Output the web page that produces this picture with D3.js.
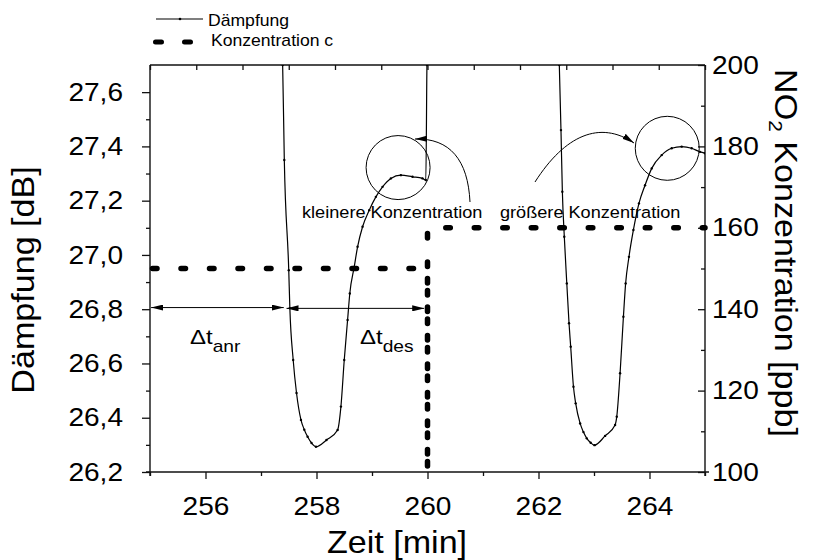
<!DOCTYPE html>
<html><head><meta charset="utf-8">
<script src="https://cdn.jsdelivr.net/npm/d3@7/dist/d3.min.js"></script>
<style>
body{margin:0;background:#fff}
svg{display:block}
text{font-family:"Liberation Sans",Arial,Helvetica,sans-serif;fill:#000}
</style></head>
<body><svg id="chart" width="815" height="560"></svg>
<script>
// ---------- data ----------
const timeTicks = [256, 258, 260, 262, 264];
const timeMinor = [255, 257, 259, 261, 263, 265];
const dampTicks = [26.2, 26.4, 26.6, 26.8, 27.0, 27.2, 27.4, 27.6];
const dampMinor = [26.3, 26.5, 26.7, 26.9, 27.1, 27.3, 27.5];
const concTicks = [100, 120, 140, 160, 180, 200];
const concMinor = [110, 130, 150, 170, 190];

const dampTime = [257.37, 257.39, 257.42, 257.50, 257.52, 257.58, 257.64, 257.72, 257.78, 257.84, 257.91, 257.99,
  258.18, 258.38, 258.44, 258.50, 258.56, 258.60, 258.68, 258.74, 258.83, 258.95, 259.07, 259.19, 259.34,
  259.52, 259.73, 259.91, 259.97, 259.99, 260.00,
  262.36, 262.375, 262.405, 262.43, 262.465, 262.51, 262.55, 262.58, 262.63, 262.67, 262.75, 262.81, 262.87, 262.94,
  263.01, 263.20, 263.38, 263.41, 263.47, 263.53, 263.57, 263.63, 263.71, 263.81, 263.92, 264.04, 264.22,
  264.40, 264.58, 264.76, 264.91, 265.00];
const dampValue = [27.80, 27.70, 27.35, 26.944, 26.804, 26.613, 26.491, 26.392, 26.356, 26.330, 26.307, 26.293,
  26.318, 26.355, 26.441, 26.613, 26.760, 26.858, 26.956, 27.030, 27.104, 27.165, 27.214, 27.251, 27.282,
  27.294, 27.288, 27.282, 27.276, 27.70, 27.80,
  27.80, 27.70, 27.46, 27.233, 27.067, 26.895, 26.748, 26.662, 26.514, 26.453, 26.379, 26.347, 26.324, 26.308,
  26.299, 26.333, 26.373, 26.404, 26.564, 26.772, 26.895, 26.993, 27.092, 27.190, 27.257, 27.319, 27.368,
  27.393, 27.399, 27.393, 27.380, 27.375];

const concTime = [255, 260, 260, 260, 265];
const concValue = [150, 150, 100, 160, 160];

const legendLabels = ["Dämpfung", "Konzentration c"];

// ---------- setup ----------
const SX = 1.1;
const svg = d3.select("#chart");
const m = {left:150, right:705, top:65, bottom:472};

const x = d3.scaleLinear().domain([255, 265]).range([m.left, m.right]);
const yL = d3.scaleLinear().domain([26.2, 27.7]).range([m.bottom, m.top]);
const yR = d3.scaleLinear().domain([100, 200]).range([m.bottom, m.top]);

function stretch(sel, sx){
  sel.each(function(){
    const t = d3.select(this);
    const tx = +t.attr("x") || 0, ty = +t.attr("y") || 0;
    t.attr("x", 0).attr("y", 0).attr("transform", `translate(${tx},${ty}) scale(${sx||SX},1)`);
  });
}
function styleAxis(g, fs){
  g.attr("font-family", null).attr("font-size", null);
  g.select(".domain").remove();
  g.selectAll(".tick line").attr("stroke", "#111").attr("stroke-width", 1.3);
  g.selectAll("text").attr("font-size", fs).attr("fill", "#000");
}
const fmtD = d => d3.format(".1f")(d).replace(".", ",");

svg.append("defs").append("clipPath").attr("id", "plotclip")
  .append("rect").attr("x", m.left).attr("y", m.top)
  .attr("width", m.right - m.left).attr("height", m.bottom - m.top);

// ---------- axes ----------
let g = svg.append("g").attr("transform", `translate(${m.left},0)`)
  .call(d3.axisLeft(yL).tickValues(dampTicks).tickFormat(fmtD).tickSizeInner(8).tickSizeOuter(0).tickPadding(19));
styleAxis(g, 25.5); stretch(g.selectAll("text"));
g = svg.append("g").attr("transform", `translate(${m.left},0)`)
  .call(d3.axisLeft(yL).tickValues(dampMinor).tickFormat("").tickSizeInner(4).tickSizeOuter(0));
styleAxis(g, 10);

g = svg.append("g").attr("transform", `translate(${m.right},0)`)
  .call(d3.axisRight(yR).tickValues(concTicks).tickFormat(d3.format("d")).tickSizeInner(-7).tickSizeOuter(0).tickPadding(7));
styleAxis(g, 25.5); stretch(g.selectAll("text"));
g = svg.append("g").attr("transform", `translate(${m.right},0)`)
  .call(d3.axisRight(yR).tickValues(concMinor).tickFormat("").tickSizeInner(-4).tickSizeOuter(0));
styleAxis(g, 10);

g = svg.append("g").attr("transform", `translate(0,${m.bottom})`)
  .call(d3.axisBottom(x).tickValues(timeTicks).tickFormat(d3.format("d")).tickSizeInner(7).tickSizeOuter(0).tickPadding(18));
styleAxis(g, 25.5); stretch(g.selectAll("text"));
g = svg.append("g").attr("transform", `translate(0,${m.bottom})`)
  .call(d3.axisBottom(x).tickValues(timeMinor).tickFormat("").tickSizeInner(4).tickSizeOuter(0));
styleAxis(g, 10);

g = svg.append("g").attr("transform", `translate(0,${m.top})`)
  .call(d3.axisTop(x).tickValues(d3.range(0, 13).map(i => 255 + i * 10 / 12)).tickFormat("").tickSizeInner(-5).tickSizeOuter(0));
styleAxis(g, 10);

const frame = svg.append("g").attr("stroke", "#111").attr("stroke-width", 1.4).attr("fill", "none");
frame.append("line").attr("x1", m.left).attr("x2", m.left).attr("y1", m.top).attr("y2", m.bottom + 4);
frame.append("line").attr("x1", m.right).attr("x2", m.right).attr("y1", m.top).attr("y2", m.bottom + 4);
frame.append("line").attr("x1", m.left - 4).attr("x2", m.right + 4).attr("y1", m.bottom).attr("y2", m.bottom);
frame.append("line").attr("x1", m.left).attr("x2", m.right).attr("y1", m.top).attr("y2", m.top);

// ---------- series ----------
const concData = concTime.map((t, i) => ({t, v: concValue[i]}));
svg.append("path").datum(concData)
  .attr("d", d3.line().x(d => x(d.t)).y(d => yR(d.v)))
  .attr("fill", "none").attr("stroke", "#000").attr("stroke-width", 5.5)
  .attr("stroke-dasharray", "4.5,24").attr("stroke-linecap", "round").attr("stroke-dashoffset", -2.5);

const dampData = dampTime.map((t, i) => ({t, v: dampValue[i]}));
const cg = svg.append("g").attr("clip-path", "url(#plotclip)");
cg.append("path").datum(dampData)
  .attr("d", d3.line().x(d => x(d.t)).y(d => yL(d.v)).curve(d3.curveMonotoneX))
  .attr("fill", "none").attr("stroke", "#000").attr("stroke-width", 1.2);
cg.selectAll("circle.mk").data(dampData.filter(d => d.v <= 27.7)).join("circle")
  .attr("class", "mk").attr("cx", d => x(d.t)).attr("cy", d => yL(d.v)).attr("r", 1.2).attr("fill", "#000");

// ---------- annotations ----------
const defs = svg.select("defs");
defs.append("marker").attr("id", "ah").attr("viewBox", "0 0 12 6").attr("refX", 12).attr("refY", 3)
  .attr("markerWidth", 12).attr("markerHeight", 6).attr("markerUnits", "userSpaceOnUse").attr("orient", "auto-start-reverse")
  .append("path").attr("d", "M0,0 L12,3 L0,6 Z").attr("fill", "#000");

const ann = svg.append("g").attr("fill", "none").attr("stroke", "#000").attr("stroke-width", 1);
ann.append("circle").attr("cx", x(259.47)).attr("cy", yL(27.322)).attr("r", 32);
ann.append("circle").attr("cx", x(264.32)).attr("cy", yL(27.393)).attr("r", 32);
ann.append("path").attr("d", "M470,202 C468,160 450,138 415,139").attr("marker-end", "url(#ah)");
ann.append("path").attr("d", "M535,182 C565,135 600,120 634,143").attr("marker-end", "url(#ah)");

const yArr = yL(26.806);
ann.append("line").attr("x1", x(255.02)).attr("x2", x(257.41)).attr("y1", yArr).attr("y2", yArr)
  .attr("marker-start", "url(#ah)").attr("marker-end", "url(#ah)");
ann.append("line").attr("x1", x(257.46)).attr("x2", x(259.94)).attr("y1", yArr + 0.8).attr("y2", yArr + 0.8)
  .attr("marker-start", "url(#ah)").attr("marker-end", "url(#ah)");

function addText(str, tx, ty, fs, anchor, rot, sx){
  const t = svg.append("text").attr("font-size", fs).attr("text-anchor", anchor || "start")
    .attr("transform", `translate(${tx},${ty})${rot ? ` rotate(${rot})` : ""} scale(${sx || SX},1)`);
  t.text(str);
  return t;
}
addText("kleinere Konzentration", 302, 218, 16.5);
addText("größere Konzentration", 500, 217.5, 16.5);

let t = addText("", 190, 344, 20, "start", 0, 1.2);
t.append("tspan").text("Δt");
t.append("tspan").attr("font-size", 16).attr("dy", 8).text("anr");
t = addText("", 360, 344, 20, "start", 0, 1.2);
t.append("tspan").text("Δt");
t.append("tspan").attr("font-size", 16).attr("dy", 8).text("des");

addText("Zeit [min]", 397, 553, 31, "middle");
addText("Dämpfung [dB]", 34, 280, 31, "middle", -90);
t = addText("", 775, 253, 31, "middle", 90);
t.append("tspan").text("NO");
t.append("tspan").attr("font-size", 19).attr("dy", 6).text("2");
t.append("tspan").attr("dy", -6).text(" Konzentration [ppb]");

// ---------- legend ----------
const lg = svg.append("g");
lg.append("line").attr("x1", 156).attr("x2", 203).attr("y1", 19).attr("y2", 19).attr("stroke", "#000").attr("stroke-width", 1.1);
lg.append("circle").attr("cx", 180).attr("cy", 19).attr("r", 1.3).attr("fill", "#000");
lg.append("line").attr("x1", 155.5).attr("x2", 195).attr("y1", 42).attr("y2", 42)
  .attr("stroke", "#000").attr("stroke-width", 5).attr("stroke-dasharray", "6,23").attr("stroke-linecap", "round");
addText(legendLabels[0], 208, 25.5, 16);
addText(legendLabels[1], 211, 46, 16);
</script></body></html>
